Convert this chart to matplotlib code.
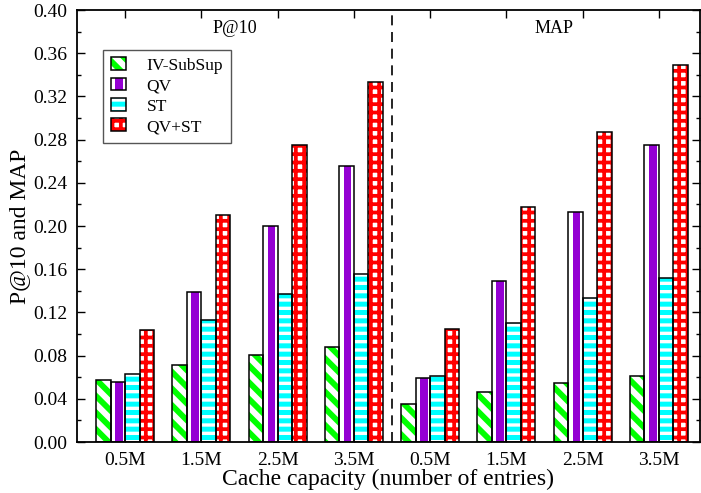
import numpy as np
import matplotlib
matplotlib.use("Agg")
import matplotlib.pyplot as plt
from matplotlib.patches import Rectangle
from matplotlib.ticker import MultipleLocator, FormatStrFormatter

plt.rcParams['font.family'] = ['Liberation Serif', 'DejaVu Serif']

caps = ['0.5M', '1.5M', '2.5M', '3.5M']
series = ['IV-SubSup', 'QV', 'ST', 'QV+ST']

# P@10 values
p10_iv = [0.057, 0.071, 0.081, 0.088]
p10_qv = [0.056, 0.139, 0.200, 0.256]
p10_st = [0.063, 0.113, 0.137, 0.156]
p10_qvst = [0.104, 0.210, 0.275, 0.333]

# MAP values
map_iv = [0.035, 0.046, 0.055, 0.061]
map_qv = [0.059, 0.149, 0.213, 0.275]
map_st = [0.061, 0.110, 0.133, 0.152]
map_qvst = [0.105, 0.218, 0.287, 0.349]

labels = caps + caps
vals = [p10_iv + map_iv, p10_qv + map_qv, p10_st + map_st, p10_qvst + map_qvst]

GREEN = '#00ff00'
PURPLE = '#9400d3'
CYAN = '#00ffff'
RED = '#ff0000'

# hatch style per series: (hatch colour, hatch, hatch linewidth)
hatch_iv = (GREEN, '\\\\', 4.2)
hatch_st = (CYAN, '--', 3.6)
hatch_qvst = (RED, '++', 2.7)


def hatched_bar(ax, x, h, w, style):
    hcolor, hatch, hlw = style
    plt.rcParams['hatch.linewidth'] = hlw
    bars = ax.bar(x, h, w, color='white', edgecolor=hcolor, hatch=hatch, linewidth=0, zorder=2)
    for b in bars:
        if hasattr(b, 'set_hatch_linewidth'):
            b.set_hatch_linewidth(hlw)
    ax.bar(x, h, w, fill=False, edgecolor='black', linewidth=1.1, zorder=3)


fig = plt.figure(figsize=(7.01, 4.93), dpi=100)
ax = fig.add_axes([0.1098, 0.1034, 0.8888, 0.8763])

x = np.arange(len(labels))
w = 0.19
offs = [-1.5 * w, -0.5 * w, 0.5 * w, 1.5 * w]

hatched_bar(ax, x + offs[0], vals[0], w, hatch_iv)
# QV: white bar with a purple stripe
ax.bar(x + offs[1], vals[1], w, color='white', linewidth=0, zorder=2)
ax.bar(x + offs[1] + 0.08 * w, vals[1], w * 0.52, color=PURPLE, linewidth=0, zorder=2)
ax.bar(x + offs[1], vals[1], w, fill=False, edgecolor='black', linewidth=1.1, zorder=3)
hatched_bar(ax, x + offs[2], vals[2], w, hatch_st)
hatched_bar(ax, x + offs[3], vals[3], w, hatch_qvst)

ax.axvline(3.5, color='black', linestyle=(0, (6, 4)), linewidth=1.2, zorder=4)

ax.set_xlim(-0.63, 7.54)
ax.set_ylim(0, 0.40)
ax.set_xticks(x)
ax.set_xticklabels(labels, fontsize=14)
ax.yaxis.set_major_locator(MultipleLocator(0.04))
ax.yaxis.set_minor_locator(MultipleLocator(0.02))
ax.yaxis.set_major_formatter(FormatStrFormatter('%.2f'))
ax.tick_params(axis='y', labelsize=14)
ax.tick_params(direction='in', top=True, right=True, length=6, width=1, pad=7)
ax.tick_params(which='minor', direction='in', right=True, length=3, width=1)
for s in ax.spines.values():
    s.set_linewidth(1.3)

ax.set_xlabel('Cache capacity (number of entries)', fontsize=17, labelpad=0)
ax.set_ylabel('P@10 and MAP', fontsize=17, labelpad=2)

ax.text(0.253, 0.958, 'P@10', transform=ax.transAxes, ha='center', va='center', fontsize=13)
ax.text(0.766, 0.958, 'MAP', transform=ax.transAxes, ha='center', va='center', fontsize=13)


class SwatchHandler:
    def __init__(self, style):
        self.style = style

    def legend_artist(self, legend, orig_handle, fontsize, handlebox):
        x0, y0 = handlebox.xdescent, handlebox.ydescent
        wd, ht = handlebox.width, handlebox.height
        tr = handlebox.get_transform()
        arts = []
        if self.style is None:
            arts.append(Rectangle((x0, y0), wd, ht, facecolor='white', linewidth=0, transform=tr))
            arts.append(Rectangle((x0 + wd * 0.3, y0), wd * 0.5, ht, facecolor=PURPLE, linewidth=0, transform=tr))
        else:
            hc, hatch, hlw = self.style
            r = Rectangle((x0, y0), wd, ht, facecolor='white', edgecolor=hc, hatch=hatch, linewidth=0, transform=tr)
            if hasattr(r, 'set_hatch_linewidth'):
                r.set_hatch_linewidth(hlw)
            arts.append(r)
        arts.append(Rectangle((x0, y0), wd, ht, fill=False, edgecolor='black', linewidth=1.1, transform=tr))
        for a in arts:
            handlebox.add_artist(a)
        return arts[0]


handles = [Rectangle((0, 0), 1, 1) for _ in series]
styles = [hatch_iv, None, hatch_st, hatch_qvst]
leg = ax.legend(handles, series, loc='upper left', bbox_to_anchor=(0.042, 0.907),
                borderaxespad=0, fontsize=12.5, handlelength=0.85, handleheight=0.75,
                handletextpad=1.2, labelspacing=0.22, borderpad=0.45,
                fancybox=False, framealpha=1, edgecolor='#555555',
                handler_map={h: SwatchHandler(s) for h, s in zip(handles, styles)})
leg.get_frame().set_linewidth(1.0)

fig.savefig('out.png', dpi=100)
